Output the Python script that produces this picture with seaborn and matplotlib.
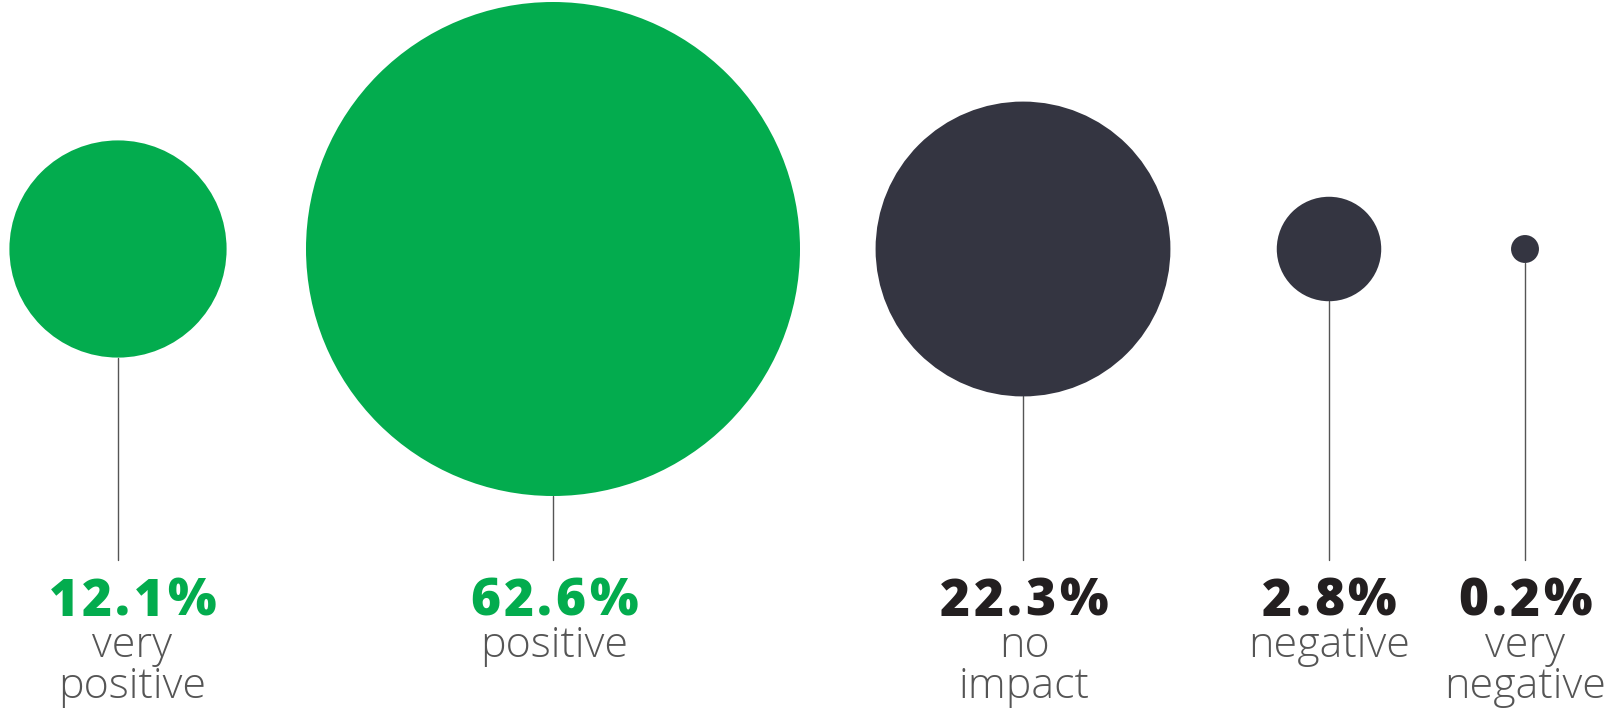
import matplotlib.pyplot as plt
import matplotlib.patches as mpatches
import seaborn as sns
import numpy as np

categories = ['very\npositive', 'positive', 'no\nimpact', 'negative', 'very\nnegative']
shares = [12.1, 62.6, 22.3, 2.8, 0.2]
pct_labels = ['12.1%', '62.6%', '22.3%', '2.8%', '0.2%']

# layout (pixels)
x_pos = [118, 553, 1023, 1329, 1525]
text_x = [132, 554, 1024, 1329, 1525]
circle_colors = ['#03AC4E', '#03AC4E', '#343541', '#343541', '#343541']
pct_colors = ['#03AC4E', '#03AC4E', '#231F20', '#231F20', '#231F20']
cy = 249
line_end = 560
r_scale = 247 / np.sqrt(62.6)
tracking = 3.3

sns.set_style('white')
plt.rcParams['font.family'] = ['Open Sans', 'DejaVu Sans']

fig = plt.figure(figsize=(16.07, 7.14), dpi=100)
ax = fig.add_axes([0, 0, 1, 1])
ax.set_xlim(0, 1607)
ax.set_ylim(714, 0)
ax.axis('off')
renderer = fig.canvas.get_renderer()


def spaced_text(x, y, s, **kw):
    # letter-spaced text, centred on x (1 data unit = 1 pixel)
    parts = [ax.text(0, y, ch, ha='left', va='baseline', **kw) for ch in s]
    widths = [p.get_window_extent(renderer).width for p in parts]
    total = sum(widths) + tracking * (len(s) - 1)
    cur = x - total / 2
    for p, w in zip(parts, widths):
        p.set_x(cur)
        cur += w + tracking


for x, tx, v, c, pc, lab, cat in zip(x_pos, text_x, shares, circle_colors,
                                     pct_colors, pct_labels, categories):
    r = r_scale * np.sqrt(v)
    ax.plot([x, x], [cy + r, line_end], color='#555555', lw=1.0, zorder=1)
    ax.add_patch(mpatches.Circle((x, cy), r, color=c, lw=0, zorder=2))
    spaced_text(tx, 616, lab, fontsize=37, fontweight='heavy', color=pc)
    for i, line in enumerate(cat.split('\n')):
        ax.text(tx, 657 + 41 * i, line, ha='center', va='baseline', fontsize=31,
                fontweight='light', color='#555555')

fig.savefig('out.png', dpi=100)
